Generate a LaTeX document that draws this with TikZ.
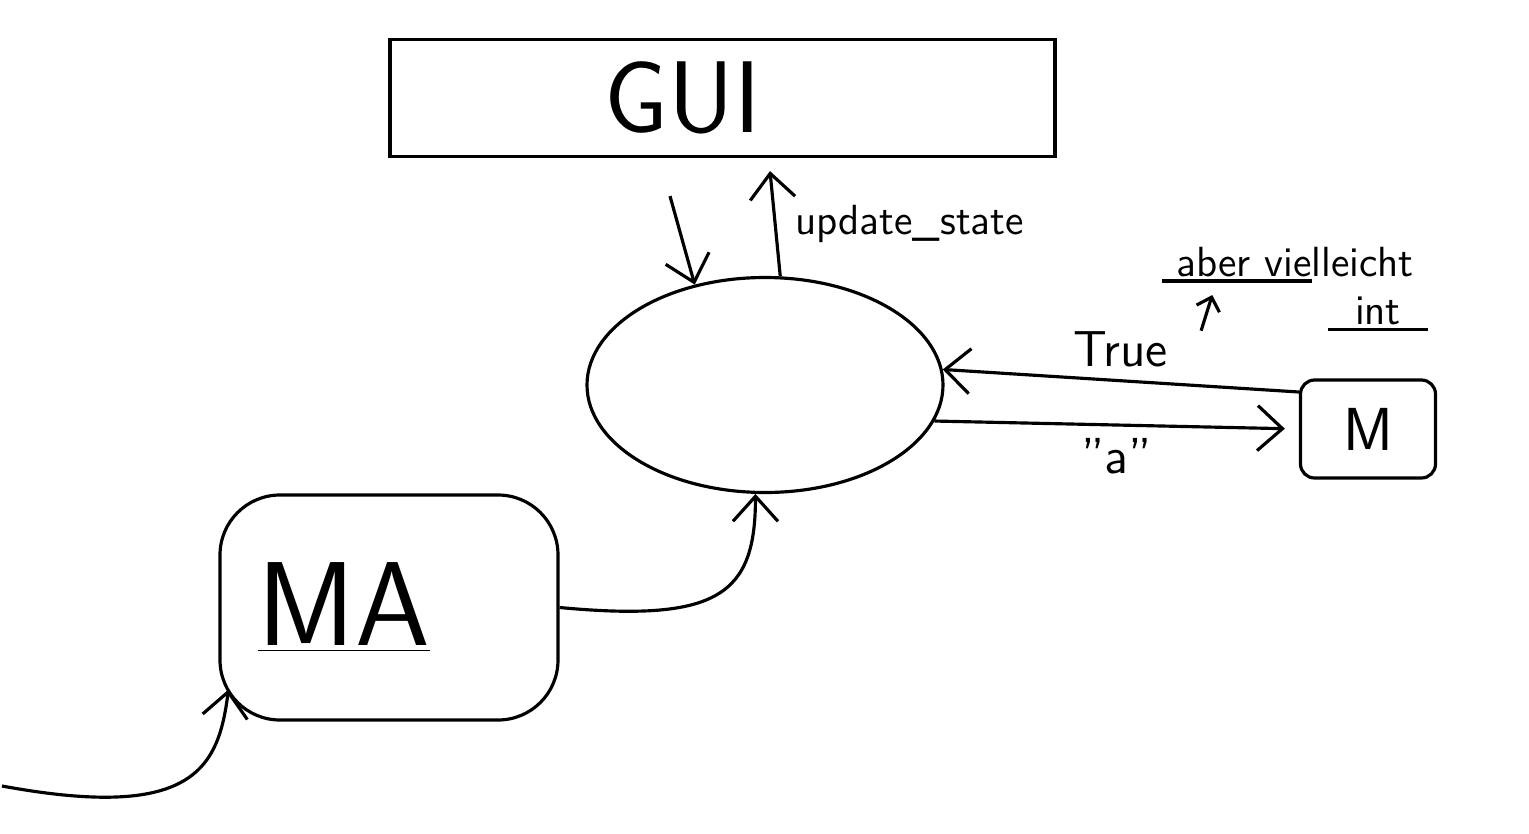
\documentclass[tikz,border=0pt]{standalone}
\usepackage{tikz}
\usetikzlibrary{shapes.geometric, arrows.meta, positioning, calc}
\tikzset{
  guibox/.style={rectangle, draw, line width=0.9pt,
    minimum width=6.65cm, minimum height=1.17cm,
    font=\sffamily\fontsize{29}{34}\selectfont},
  ctrlnode/.style={ellipse, draw, line width=0.9pt,
    minimum width=3.56cm, minimum height=2.15cm, inner sep=0pt},
  mabox/.style={rectangle, draw, line width=0.9pt, rounded corners=0.6cm,
    minimum width=3.38cm, minimum height=2.25cm,
    font=\sffamily\fontsize{34}{40}\selectfont},
  mbox/.style={rectangle, draw, line width=0.9pt, rounded corners=4pt,
    minimum width=1.35cm, minimum height=0.98cm, font=\sffamily\LARGE},
  arrow/.style={-{Straight Barb[length=2.5mm,width=4.5mm]}, line width=0.9pt},
  smallarrow/.style={-{Straight Barb[length=1.2mm,width=2.4mm]}, line width=0.9pt},
  line/.style={line width=0.9pt},
  lbl/.style={font=\sffamily\Large},
  note/.style={font=\sffamily\large, inner sep=1pt}
}
\begin{document}
\begin{tikzpicture}
  \useasboundingbox (0,0) rectangle (15.29,8.33);
  % GUI
  \node[guibox] (gui) at (7.225,7.35) {GUI\hspace*{0.8cm}};
  % controller
  \node[ctrlnode] (ctrl) at (7.65,4.48) {};
  % MA
  \node[mabox] (ma) at (3.89,2.255) {\underline{MA}\hspace*{0.9cm}};
  % M
  \node[mbox] (m) at (13.68,4.04) {M};

  % GUI <-> controller
  \draw[arrow] ([xshift=-0.525cm,yshift=-0.38cm]gui.south) -- (ctrl.125);
  \draw[arrow] (ctrl.82) -- ([xshift=0.475cm,yshift=-0.13cm]gui.south)
    node[midway, right=0.15cm, note] (upd) {update\_state};

  % controller <-> M
  \draw[arrow] ([yshift=0.37cm]m.west) -- (ctrl.5)
    node[midway, above, lbl] (true) {True};
  \draw[arrow, shorten >=4pt] (ctrl.-12) -- (m.west)
    node[midway, below, lbl] (aq) {"a"};

  % note
  \node[note] (note) at (12.95,5.71) {aber vielleicht};
  \node[note] (int) at (13.78,5.22) {int};
  \draw[line] ([xshift=-0.1cm]note.south west) -- ++(1.5,0);
  \draw[line] ([xshift=-0.23cm]int.south west) -- ++(1.0,0);
  \draw[smallarrow] ([xshift=0.2cm,yshift=-0.12cm]true.north east) -- ([xshift=0.4cm,yshift=-0.14cm]note.south west);

  % MA -> controller
  \draw[arrow] (ma.east) .. controls +(1.6,-0.15) and +(0,-1.0) .. (ctrl.-95);

  % input -> MA
  \coordinate (src) at (0.02,0.47);
  \draw[arrow] (src) .. controls +(1.9,-0.35) and +(-0.1,-0.8) .. ([xshift=0.1cm,yshift=0.32cm]ma.south west);
\end{tikzpicture}
\end{document}
